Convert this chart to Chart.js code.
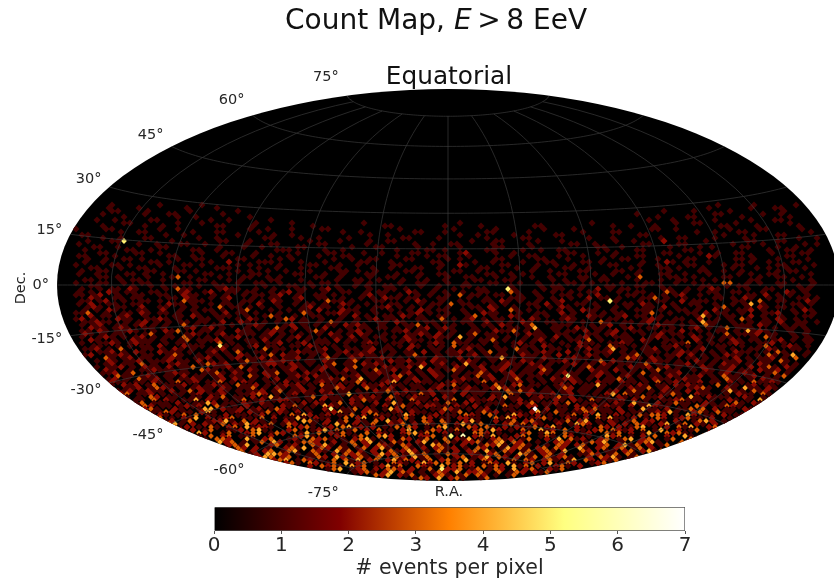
<!DOCTYPE html>
<html>
<head>
<meta charset="utf-8">
<script src="https://cdn.jsdelivr.net/npm/chart.js@4"></script>
<style>
  body { margin: 0; background: #fff; width: 834px; height: 582px; overflow: hidden; position: relative; font-family: "DejaVu Sans", sans-serif; color: #111; }
  canvas { position: absolute; }
  #mapChart { left: 0; top: 0; }
  #barChart { left: 190px; top: 500px; }
  #title { position: absolute; left: 0; width: 872px; top: 2px; text-align: center; font-size: 28px; line-height: 36px; white-space: pre; }
  #subtitle { position: absolute; left: 0; width: 898px; top: 60px; text-align: center; font-size: 24.8px; line-height: 32px; }
</style>
</head>
<body>
<canvas id="mapChart" width="834" height="582"></canvas>
<canvas id="barChart" width="520" height="81"></canvas>
<div id="title">Count Map, <i>E</i>&#8201;&gt;&#8201;8 EeV</div>
<div id="subtitle">Equatorial</div>
<script>
// tick labels
const decTicks = [75, 60, 45, 30, 15, 0, -15, -30, -45, -60, -75];
const raTicks = [-150, -120, -90, -60, -30, 0, 30, 60, 90, 120, 150];
const barTicks = [0, 1, 2, 3, 4, 5, 6, 7];

// colour bar
const colorStops = [0, 1.87, 3.5, 5.2, 7];
const stopColors = [[0, 0, 0], [128, 0, 0], [255, 128, 0], [255, 255, 128], [255, 255, 255]];

// events per pixel, estimated row by row from the north edge of the exposure down to the south pole
const cellRows = [
  "0000100000 0010000001 0000000000 0000000000 0000000000 0000000000 0000000000 0000000000 0000000000 0000000000 0000010000 0100000010",
  "0001000010 0000001000 0100000000 0000000000 0000000000 0000000000 0000000000 0000000000 0000000000 0000000000 0001000000 1000110000",
  "0000110000 1000000100 0000010000 0000000000 0000000000 0000000000 0000000000 0000000000 0000000000 0000001000 0100000100 0000001000",
  "0010000001 0001100000 0010000000 0000000000 0000000000 0000000000 0000000000 0000000000 0000000000 0100000000 0000110000 0010010000",
  "0000001000 0000010010 0000000100 0000000000 0000000000 0000000000 0000000000 0000000000 0000000000 0000010000 1100000001 0000000100",
  "0100100000 1100000000 1001000000 1000000000 0000000000 0000000000 0000000000 0000000000 0000000000 0001000100 0000100000 1000110000",
  "0000001100 0000010001 0000000010 0000100000 0000001000 0000000000 0010000000 0000000000 0000100000 0000000010 0110000010 0000000100",
  "0010000001 0010000000 0110000100 0000000100 0000000001 1000000001 0000010000 0000110000 0000000100 1000100000 0000011000 0100000010",
  "1000011000 0000100100 0000000001 0010001000 0110000000 0000100000 0001000000 1000000010 0001000000 0000001100 1000000001 0000110000 0100",
  "0000000100 1100000001 0001100000 1000000000 0000100100 0000001100 0100000011 0000010000 0000100001 1000000000 0001001000 1100000000 0010",
  "0110000000 0000010010 0000000100 0001001000 0000000001 0010000000 0000100100 0001000000 1100000000 0000110000 0000000010 0001000110 0000",
  "0000100100 0110000000 1001000000 0110000100 1000010000 0000110000 1000000010 0000110000 0000010001 0000000100 1100001000 0100000000 1001",
  "0010001150 0000001000 0000110001 0000000001 0000100001 0011000000 0000001000 1100000100 0100000000 1001000020 0000010000 0011000110 0000",
  "1000000000 1001000110 0100000010 0011000000 1100000010 0000001001 0011000001 0000010000 0011001000 0000110000 1100000001 0000100000 0101",
  "0001100100 0000110000 0000100010 0100000110 0000001000 1100000100 0000100000 1100001000 0000000110 0100000001 0000101000 0110000100 1000",
  "0100000011 0010000001 1001000000 0001110000 0100100000 0001000011 0100000011 0000100100 1100000010 0001100000 0110000000 0000010011 0010",
  "0000110000 1100100000 0100011000 1000000100 0011000010 0100001100 0000120000 1001000000 0011000100 1000000011 0000100100 1100001000 0110",
  "1100001000 0000011001 0000100001 0010010000 1000110000 0001000010 1100010000 0010011000 1000100001 0001100000 1000021000 0010000011 0000",
  "0010010011 0100000100 1100000110 0000101000 0001001001 1000011000 0010100000 1100000110 0010000010 0110000100 0011000000 1101000100 0010",
  "0100100000 0011010000 0010020000 1110000100 0100000110 0010000001 1000001001 0000100011 0000110100 0000100021 0100010000 0010010001 1000",
  "1000001101 0000100011 0100000101 0000100001 1000100100 0001100000 0100210000 0110000100 1001000001 1000100100 0011000010 1100000110 0001",
  "0011000100 1100001000 0001110000 1001000100 0011000001 0010001100 1000000110 0001001000 0110010000 0010000110 1000100001 0001010010 0100",
  "0100110000 0011000110 1000000101 0010010001 0000110100 1000011000 0001100100 0100001001 0000110000 1100100001 0000110010 0100000101 1000",
  "1001000011 0100100000 0110010001 1000001100 0100100011 0001000100 1100000011 0010100000 1100001001 0001000110 0100010000 1010011000 0010",
  "0000110100 0010001301 0000100011 0010100000 1100100001 0011000100 0010011000 1001001001 0000110010 0010300001 1001000011 0000100110 0100",
  "0110000101 1000100000 1100010100 0011000100 0001001100 1000100010 0100001100 0110000001 0100100110 0001000100 1100101000 0011000001 0010",
  "1000110010 0110000011 0001000100 1100100001 0110000101 0000100110 0010010001 1000100100 0011001000 0100011000 1001000033 0010100110 0001",
  "0011000001 0010101000 1001100000 0100011001 0001001010 0110000100 1000110000 0010000101 1000100011 0001100100 0000110010 1100000100 1010",
  "0100101102 1000010311 0000121100 1001000110 0120100001 0011010000 1001000110 0051000010 1100100201 0110000011 0010102100 0010011000 0110",
  "1010021011 0011000120 0120011011 0010120100 0100110010 1100021001 0100100110 0031001001 0010011000 1001100031 0100011001 1000100021 0100",
  "1101200100 1100110021 1001010010 1101200100 1101000012 0100100101 0010301100 1100100100 0110100200 0011001010 1200100100 0011020101 0010",
  "0021001101 1000011021 0010120001 0011001200 1100100101 0211011000 1100010010 0011100101 0010020110 1000113010 0100001101 0210010100 1101",
  "0110120010 0110100031 1100010011 0102100100 0031101000 1100010210 0100100011 0210100100 1200010005 1000100110 0201110000 1100300110 0021",
  "1020011001 1000021101 0010110100 2001001011 0100210010 0011000101 1030110001 0100011020 1001101000 0110210001 0011001001 0140100001 1010",
  "0012100110 0200110010 1000301101 0100100012 0110100100 1120101001 0010001102 1001000101 0210000100 1010011020 1000100130 0010210110 0100",
  "0101021000 1100200101 0110100130 0010010110 2000211001 0010010210 1100100102 0031010000 1010211001 0001110100 1101002010 1120100001 0210",
  "1130010011 0210110100 1001020110 1000100031 0011210100 1000101201 0010010021 1000100110 0201001010 1100013001 0011020110 0100011200 1001",
  "0020110120 0100001102 1001110010 0131001001 1000102010 0110210100 1100013001 0021001010 0110021100 1201100100 0001410011 0020100100 0110",
  "1201000211 0011210100 0110100102 1000132010 0100100101 2011000110 0301012010 1100102100 0121001001 1000012100 1100200101 0310010210 1000",
  "0112110010 1201010110 1100200210 0101000110 1031001000 1102100011 0100110020 1010210011 0010100310 0110120011 0010411001 0010110200 1101",
  "1012001101 2010100301 0011010012 1000120101 0110212100 1000113001 0010010110 2100130001 1100010120 1001002110 1010310001 1102100101 10",
  "0211012100 1101000120 1201000101 0031020100 2000101101 1010101201 2100010010 0110140011 0021011000 1200110010 0120101301 1100010110 10",
  "1102101121 0010213000 1101002110 0121010013 1001012010 0011201100 1010011002 1130101001 0110201012 0011000110 2001001101 0412100010 01",
  "2101011000 1300100121 0012001110 1201001001 0210102100 1000112102 0100130110 0010211001 1000110120 1001012011 0100100301 1120110010 10",
  "1001210101 2010110310 0100112000 1101012010 0011020101 1010210012 1104010011 0100101102 0101201001 1100012100 1021010110 0010310001 01",
  "0210010021 1101001301 1120100110 2010100101 1020110100 1001211001 0010101130 1001012010 0110301000 1102100110 0020101021 0110012010 11",
  "1001121012 1100101100 1003010011 0112001201 1100100121 0011010012 1031100101 0012010100 1002110011 2100100101 1301010012 1001120100 01",
  "0110010101 1020002111 0051010120 1100110210 0101001100 1010210101 0301110010 0101102100 1021010311 0101001120 1010011001 0013001210 1",
  "1120103000 1101021010 0112011000 3011000101 2010110120 1100200011 0101201001 1031010011 0010210140 1001120101 0012001010 0110210011 0",
  "0011201021 0021110100 1201030011 0100121111 0012011201 0101102010 1120101301 0011012100 2001011201 0101110012 1100101021 1001031000 1",
  "1200112100 1100131001 0110102100 1302110010 2010112110 0100130001 0110120101 1002110102 0010210100 1130100112 0201010211 0010310140 1",
  "0310120110 0121001120 1012011201 0112010131 0021011210 1001102100 2001011401 0110210012 1101000132 1021010011 0101102010 1120103",
  "1021011201 1120110201 0100131012 1210011021 0013010102 1120102110 0121001011 0210101120 1001302101 0012110100 2101011201 0110310",
  "0120110301 0012100132 1200101122 1021010013 0110212100 1011201201 0410100121 1021010012 0110210110 1301001120 1010211010 2100101",
  "1011201021 1020113000 1120301010 0112100121 0013011021 1120400110 2101201120 1011210010 0130110102 1120120101 0210112002 0131021",
  "2100101121 1101003210 0110210110 1201012010 2101031120 1010210131 0012012010 1103101001 0211021010 0130110010 2101201102 11201",
  "1120130010 0121100113 1021010213 0110210101 1010112100 1201021001 0113100120 1102101211 0012100110 3010112000 1101201210 01301",
  "0311012101 1020110120 1103102100 1210211001 1201101230 1010210101 0312001210 1100105100 1201012010 1102101120 1031101201 013",
  "1201031120 1011210012 0210101020 1102011213 0140101120 1201010012 1101201130 1010212210 1001130101 0211012110 0103110102 110",
  "2110110210 1301201130 1021001102 0110121101 1310012401 0211001210 0130110120 1010110210 0211021101 0301201120 1102010311 210",
  "1021201301 1120101211 0311201012 1201031120 1021120110 1100121301 0010310230 1100121001 1410011021 0110212110 0301101201 10",
  "0112013210 1012110210 1130102101 2010113210 0310120101 1012001121 0124210110 0101320110 1001021130 1201012310 0210411021",
  "1120121102 0130210210 1011201301 1210210110 1002131021 0120112021 1101031312 0110120110 1012013101 0211020110 0141103120",
  "2301120101 1012011200 1123201012 0110120140 1101002101 3120110201 1011031021 1120120101 0240311010 1131002110 0102110310",
  "1010320110 0110213011 0201410110 1302110012 1210310121 1002100110 0214110012 1131200101 1021013112 0010410211 1002101",
  "0110302101 1402101013 0120122110 1020110213 1102010311 0201300211 2010120110 0210210310 1120201001 1231110100 2101041",
  "2130111020 0114201102 1021001102 0210130210 0201410120 1103102010 1110021301 1203001101 0210411020 1311002101 031021",
  "0132011012 1200310102 0011021310 1042100110 1020131012 2110210201 0031102201 0110210212 1102014211 0010320113 210010",
  "1023100210 0144021120 1201320101 0025011302 1014201100 1132101012 0011000702 0110231311 0201041102 0113030201 10210",
  "0201132011 0241001202 1130210201 0012411023 1001202110 0201300131 2001102410 3101132011 0201101214 1002310311 00201",
  "1240210130 3011020110 1201003142 0120113020 3110142001 2011032103 0014210201 0113020410 2010313320 1042011020 1102",
  "0313010214 0201230110 3020114102 1100302401 2010310320 1102211003 1420012310 0210203141 1020103201 2311020010 231",
  "2310120130 0122410302 1010210431 0201302103 0412010320 3100241002 0130231001 1302401021 0130220102 0013420100 20",
  "0102341020 2103021420 1301320010 2041020130 0213020310 3024103000 2313021002 0143201020 2032102401 3021020103 01",
  "2024130201 0310230412 2100302310 1203412020 1030320103 4010320310 2021130241 0020103202 0134010203 1400230310 2",
  "0132420201 3001120341 0002300124 0301302030 1024001320 1310230420 1030041203 0210230321 2030140020 1300201402",
  "2310310420 0130023401 3200140302 1310030210 0234130020 1003320100 0230143031 0120031302 0140032310 0023401",
  "0023401030 2301130020 0032410002 3013003420 1002230150 6023140102 3001310320 0100423010 2030200410 320310",
  "1340020103 3200410230 0120032310 1023410020 3201300302 1401023120 1300204031 2002301340 2300130032 40102",
  "0032310042 3010130420 0133200201 3024010310 0240103102 2301340320 0100232001 3240010023 4100032130 130",
  "2304310002 3140002301 2003241010 3020321032 0104310020 0132410231 0010320230 0230241302 0130310002 3",
  "0132410320 2010023140 1320310130 2410031020 2312010320 0142310230 3200410230 2301302000 31024",
  "3240013020 2301340032 1041302020 0312420103 1020230410 3201302310 4003200110 2302413020 0",
  "0023120443 2010130020 3231024230 1413010320 0210230104 3102302001 1320130310 00230",
  "3124302300 1132042023 1030032041 3010023012 4032020130 3123100203 2410130",
  "2023401320 1030314023 0241320130 2310410320 0130320231 0140320213 012",
  "2310320130 4123010032 1024230313 0201320410 2302401320 0123",
  "2032310423 0124130032 1040231203 1320413020 0231020",
  "1340123020 3320201305 2230130132 0402300213",
  "0123102403 2010132040 2231030132 0213",
  "3240213010 2310130320 1013",
  "0132040231 0013"
];

// hammer projection, result in units of the ellipse half-axes
function hammer(ra, dec) {
  const lon = ra * Math.PI / 180, lat = dec * Math.PI / 180;
  const d = Math.sqrt(1 + Math.cos(lat) * Math.cos(lon / 2));
  return { x: Math.cos(lat) * Math.sin(lon / 2) / d, y: Math.sin(lat) / d };
}

function colorAt(v) {
  let i = 0;
  while (i < colorStops.length - 2 && v > colorStops[i + 1]) i++;
  const t = Math.min(1, (v - colorStops[i]) / (colorStops[i + 1] - colorStops[i]));
  const c = stopColors[i].map((a, k) => Math.round(a + (stopColors[i + 1][k] - a) * t));
  return `rgb(${c[0]},${c[1]},${c[2]})`;
}

function buildCells() {
  const cells = [];
  cellRows.forEach((row, i) => {
    const digits = row.replace(/ /g, '');
    for (let j = 0; j < digits.length; j++) {
      if (digits[j] === '0') continue;
      cells.push({
        x: (j - digits.length / 2 + (i % 2) * 0.5) * 6 / 391,
        y: (80 - i * 3) / 196,
        v: Number(digits[j])
      });
    }
  });
  return cells;
}

function buildGraticule() {
  const lines = [];
  decTicks.forEach(dec => {
    const pts = [];
    for (let ra = -180; ra <= 180; ra += 3) pts.push(hammer(ra, dec));
    lines.push(pts);
  });
  raTicks.forEach(ra => {
    const pts = [];
    for (let dec = -75; dec <= 75; dec += 3) pts.push(hammer(ra, dec));
    lines.push(pts);
  });
  return lines.map(pts => ({
    data: pts,
    showLine: true,
    pointRadius: 0,
    borderWidth: 1,
    borderColor: 'rgba(66,66,66,0.6)',
    order: 0
  }));
}

const mapFrame = {
  id: 'mapFrame',
  beforeDatasetsDraw(chart) {
    const { ctx, scales: { x, y } } = chart;
    const cx = x.getPixelForValue(0), cy = y.getPixelForValue(0);
    ctx.save();
    ctx.beginPath();
    ctx.ellipse(cx, cy, x.getPixelForValue(1) - cx, cy - y.getPixelForValue(1), 0, 0, Math.PI * 2);
    ctx.fillStyle = '#000';
    ctx.fill();
    ctx.clip();
  },
  afterDatasetsDraw(chart) {
    const { ctx, scales: { x, y } } = chart;
    ctx.restore();
    ctx.save();
    ctx.fillStyle = '#262626';
    ctx.font = '14.5px "DejaVu Sans"';
    ctx.textBaseline = 'middle';
    ctx.textAlign = 'right';
    decTicks.forEach(dec => {
      const p = hammer(-180, dec);
      ctx.fillText(dec + '°', x.getPixelForValue(p.x) - 8, y.getPixelForValue(p.y) - dec * 0.25);
    });
    ctx.textAlign = 'center';
    ctx.fillText('R.A.', x.getPixelForValue(0) + 1, y.getPixelForValue(-1) + 11);
    ctx.translate(21, 288);
    ctx.rotate(-Math.PI / 2);
    ctx.fillText('Dec.', 0, 0);
    ctx.restore();
  }
};

function createMapChart() {
  const cells = buildCells();
  new Chart(document.getElementById('mapChart').getContext('2d'), {
    type: 'scatter',
    data: {
      datasets: [{
        data: cells,
        pointStyle: 'rectRot',
        pointRadius: cells.map(c => (c.v > 2 ? 2.9 : 3.5)),
        pointBorderWidth: 0,
        pointBackgroundColor: cells.map(c => colorAt(c.v)),
        order: 1
      }, ...buildGraticule()]
    },
    options: {
      responsive: false,
      animation: false,
      events: [],
      layout: { autoPadding: false },
      plugins: { legend: { display: false }, tooltip: { enabled: false } },
      scales: {
        x: { type: 'linear', display: false, min: -448 / 391, max: 386 / 391 },
        y: { type: 'linear', display: false, min: -297 / 196, max: 285 / 196 }
      }
    },
    plugins: [mapFrame]
  });
}

function createBarChart() {
  new Chart(document.getElementById('barChart').getContext('2d'), {
    type: 'bar',
    data: {
      labels: [''],
      datasets: [{
        data: [barTicks[barTicks.length - 1]],
        barPercentage: 1,
        categoryPercentage: 1,
        borderWidth: 1,
        borderColor: '#555',
        backgroundColor(context) {
          const { chartArea, ctx, scales } = context.chart;
          if (!chartArea) return '#000';
          const g = ctx.createLinearGradient(scales.x.left, 0, scales.x.right, 0);
          colorStops.forEach(s => g.addColorStop(s / 7, colorAt(s)));
          return g;
        }
      }]
    },
    options: {
      indexAxis: 'y',
      responsive: false,
      animation: false,
      events: [],
      layout: { padding: { left: 24, right: 25, top: 7, bottom: 0 } },
      plugins: { legend: { display: false }, tooltip: { enabled: false } },
      scales: {
        y: { display: false },
        x: {
          min: 0,
          max: 7,
          afterBuildTicks(axis) { axis.ticks = barTicks.map(value => ({ value })); },
          afterFit(axis) { axis.height = 50; },
          ticks: { color: '#262626', font: { family: '"DejaVu Sans"', size: 20 }, padding: 0, maxRotation: 0 },
          grid: { drawOnChartArea: false, drawTicks: true, tickLength: 3, color: '#555' },
          border: { display: false },
          title: { display: true, text: '# events per pixel', color: '#262626', font: { family: '"DejaVu Sans"', size: 20.5 }, padding: 0 }
        }
      }
    }
  });
}

createMapChart();
createBarChart();
</script>
</body>
</html>
